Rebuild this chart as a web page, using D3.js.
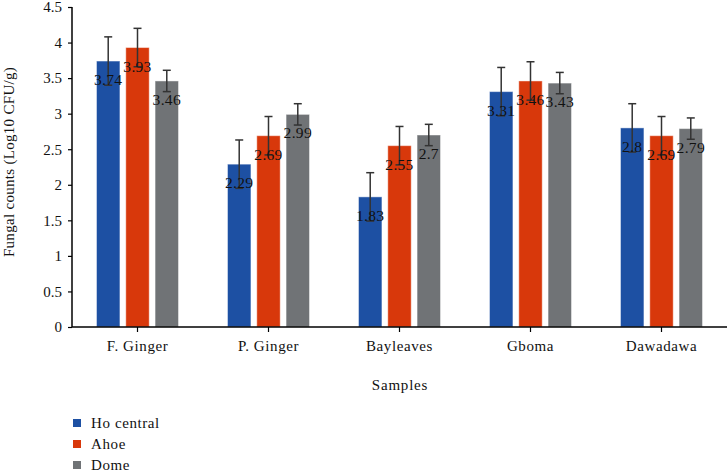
<!DOCTYPE html>
<html>
<head>
<meta charset="utf-8">
<script src="https://cdn.jsdelivr.net/npm/d3@7"></script>
<style>
  html, body { margin: 0; padding: 0; background: #fff; }
  svg { display: block; }
  svg text { font-family: "Liberation Serif", "DejaVu Serif", serif !important; fill: #111; }
</style>
</head>
<body>
<svg id="chart" width="727" height="471" font-family="Liberation Serif"></svg>
<script>
const categories = ["F. Ginger", "P. Ginger", "Bayleaves", "Gboma", "Dawadawa"];
const seriesNames = ["Ho central", "Ahoe", "Dome"];
const hoCentral = [3.74, 2.29, 1.83, 3.31, 2.8];
const ahoe = [3.93, 2.69, 2.55, 3.46, 2.69];
const dome = [3.46, 2.99, 2.7, 3.43, 2.79];
const hoCentralErr = [0.34, 0.34, 0.34, 0.34, 0.34];
const ahoeErr = [0.27, 0.27, 0.27, 0.27, 0.27];
const domeErr = [0.15, 0.15, 0.15, 0.15, 0.15];
const yTicks = [0, 0.5, 1, 1.5, 2, 2.5, 3, 3.5, 4, 4.5];
const colors = ["#1d50a3", "#d8380b", "#707376"];

(function () {
const FONT = "'Liberation Serif', 'DejaVu Serif', serif";
const values = [hoCentral, ahoe, dome];
const errs = [hoCentralErr, ahoeErr, domeErr];

const svg = d3.select("#chart");
const mLeft = 72, mRight = 727, mTop = 7, mBottom = 327;

const x0 = d3.scaleBand().domain(categories).range([mLeft, mRight]).paddingInner(0).paddingOuter(0);
const groupW = 82;
const x1 = d3.scaleBand().domain(seriesNames).range([0, groupW]).paddingInner(0.2).paddingOuter(0);
const y = d3.scaleLinear().domain([0, 4.5]).range([mBottom, mTop]);

const data = [];
categories.forEach((c, i) => {
  seriesNames.forEach((s, j) => {
    data.push({ cat: c, series: s, j, v: values[j][i], e: errs[j][i] });
  });
});
const bx = d => x0(d.cat) + (x0.bandwidth() - groupW) / 2 + x1(d.series);

svg.append("g").selectAll("rect").data(data).join("rect")
  .attr("x", d => bx(d))
  .attr("y", d => y(d.v))
  .attr("width", x1.bandwidth())
  .attr("height", d => y(0) - y(d.v))
  .attr("fill", d => colors[d.j])
  .attr("stroke", "#ffffff")
  .attr("stroke-opacity", 0.45)
  .attr("stroke-width", 1);

const eg = svg.append("g").attr("stroke", "#333").attr("stroke-width", 1.5);
data.forEach(d => {
  const cx = bx(d) + x1.bandwidth() / 2;
  eg.append("line").attr("x1", cx).attr("x2", cx).attr("y1", y(d.v + d.e)).attr("y2", y(d.v - d.e));
  eg.append("line").attr("x1", cx - 4).attr("x2", cx + 4).attr("y1", y(d.v + d.e)).attr("y2", y(d.v + d.e));
  eg.append("line").attr("x1", cx - 4).attr("x2", cx + 4).attr("y1", y(d.v - d.e)).attr("y2", y(d.v - d.e));
});

svg.append("g").selectAll("text").data(data).join("text")
  .attr("x", d => bx(d) + x1.bandwidth() / 2)
  .attr("y", d => y(d.v) + 24)
  .attr("text-anchor", "middle")
  .style("font-size", "15.5px")
  .style("letter-spacing", "0.3px")
  .text(d => String(d.v));

const yAxis = svg.append("g").attr("transform", `translate(${mLeft},0)`)
  .call(d3.axisLeft(y).tickValues(yTicks).tickSize(4).tickPadding(6).tickFormat(d => String(d)));
yAxis.attr("font-family", FONT);
yAxis.select(".domain").attr("d", `M0,${mTop}V${mBottom}`).attr("stroke", "#000").attr("stroke-width", 1.5);
yAxis.selectAll(".tick line").attr("stroke", "#000").attr("stroke-width", 1.2);
yAxis.selectAll("text").style("font-size", "15px").attr("fill", "#111");

const xAxis = svg.append("g").attr("transform", `translate(0,${mBottom})`)
  .call(d3.axisBottom(x0).tickSize(5).tickPadding(8));
xAxis.attr("font-family", FONT);
xAxis.select(".domain").attr("d", `M${mLeft},0H${mRight}`).attr("stroke", "#000").attr("stroke-width", 1.5);
xAxis.selectAll(".tick line").attr("stroke", "#000").attr("stroke-width", 1.2);
xAxis.selectAll("text").style("font-size", "15px").style("letter-spacing", "0.6px").attr("fill", "#111");

svg.append("text").attr("x", 400).attr("y", 390).attr("text-anchor", "middle")
  .style("font-size", "15px").style("letter-spacing", "0.8px").text("Samples");
svg.append("text").attr("transform", "translate(14,162) rotate(-90)").attr("text-anchor", "middle")
  .style("font-size", "15px").style("letter-spacing", "0.3px").text("Fungal counts (Log10 CFU/g)");

const lg = svg.append("g");
seriesNames.forEach((s, j) => {
  const yy = 419 + j * 21;
  lg.append("rect").attr("x", 73).attr("y", yy).attr("width", 8).attr("height", 8).attr("fill", colors[j]);
  lg.append("text").attr("x", 91).attr("y", yy + 8.5).style("font-size", "15px").style("letter-spacing", "0.6px").text(s);
});

svg.selectAll("text").style("font-family", FONT);
})();
</script>
</body>
</html>
